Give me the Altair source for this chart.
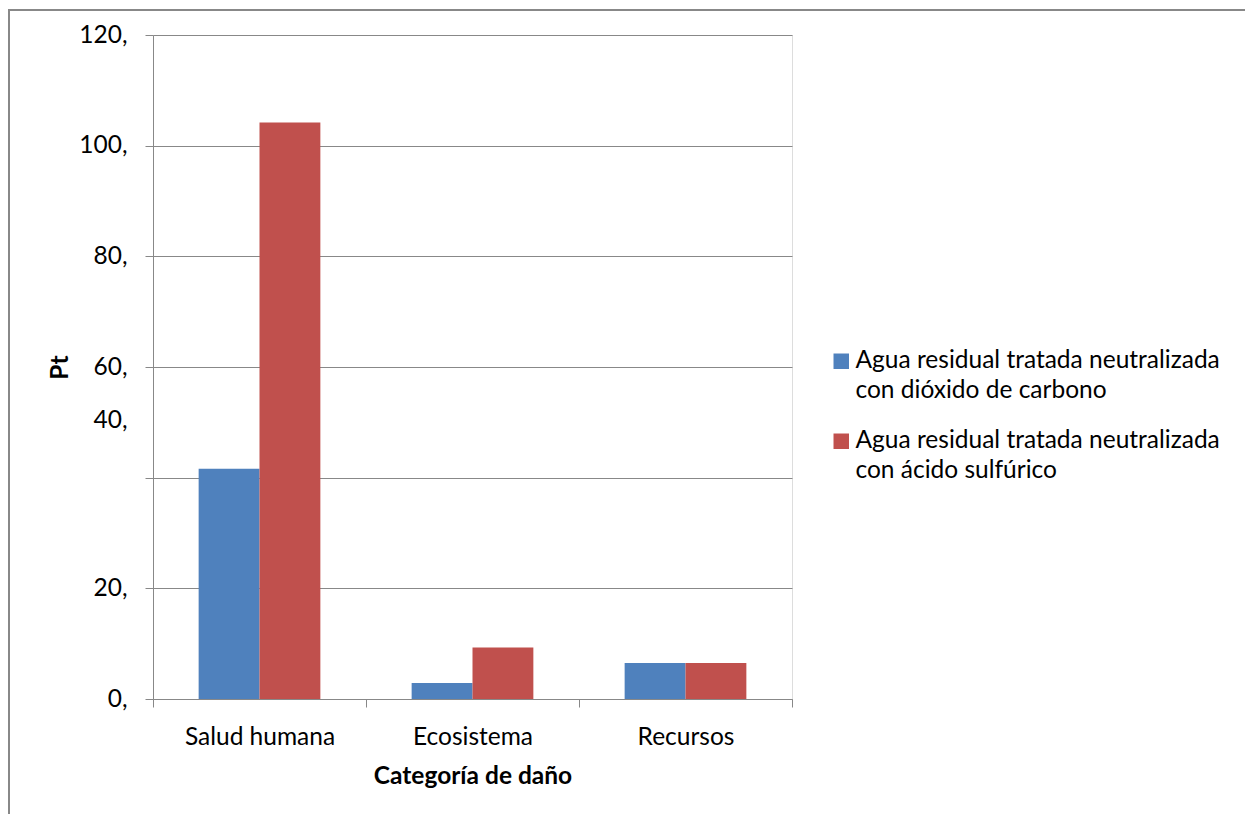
import altair as alt
import pandas as pd

categories = ["Salud humana", "Ecosistema", "Recursos"]
series = [
    "Agua residual tratada neutralizada con dióxido de carbono",
    "Agua residual tratada neutralizada con ácido sulfúrico",
]
values_co2 = [41.6, 2.9, 6.5]
values_h2so4 = [104.2, 9.3, 6.5]
y_ticks = [0, 20, 40, 60, 80, 100, 120]

rows = []
for c, v in zip(categories, values_co2):
    rows.append({"cat": c, "serie": series[0], "val": v})
for c, v in zip(categories, values_h2so4):
    rows.append({"cat": c, "serie": series[1], "val": v})
df = pd.DataFrame(rows)

FONT = "Lato"
FS = 24.5
GRAY = "#888888"
W, H = 639, 664
PAD_R, PAD_B = 453, 115

bars = alt.Chart(df).mark_bar().encode(
    x=alt.X(
        "cat:N",
        sort=categories,
        scale=alt.Scale(paddingInner=0, paddingOuter=0),
        axis=alt.Axis(
            title="Categoría de daño",
            labelAngle=0,
            tickBand="extent",
            tickSize=8,
            tickColor=GRAY,
            domainColor=GRAY,
            labelPadding=18,
            labelFont=FONT,
            labelFontSize=FS,
            labelColor="#000000",
            titleFont=FONT,
            titleFontSize=FS,
            titleFontWeight="bold",
            titleColor="#000000",
            titleBaseline="alphabetic",
            titleY=84,
        ),
    ),
    xOffset=alt.XOffset("serie:N", sort=series, scale=alt.Scale(paddingOuter=0.75, paddingInner=0)),
    y=alt.Y(
        "val:Q",
        scale=alt.Scale(domain=[0, 120], nice=False),
        axis=alt.Axis(
            title="Pt",
            values=y_ticks,
            labelExpr="datum.value + ','",
            labelOffset=alt.expr("datum.value == 40 ? -57 : 0"),
            grid=True,
            gridColor=GRAY,
            tickSize=8,
            tickColor=GRAY,
            domainColor=GRAY,
            labelPadding=18,
            labelFont=FONT,
            labelFontSize=FS,
            labelColor="#000000",
            titleFont=FONT,
            titleFontSize=FS,
            titleFontWeight="bold",
            titleColor="#000000",
            titleAngle=-90,
            titleBaseline="alphabetic",
            titleX=-86,
            titleY=H / 2,
        ),
    ),
    color=alt.Color(
        "serie:N",
        sort=series,
        scale=alt.Scale(domain=series, range=["#4F81BD", "#C0504D"]),
        legend=alt.Legend(
            title=None,
            orient="none",
            legendX=676,
            legendY=314,
            symbolType="square",
            symbolSize=240,
            symbolStrokeWidth=0,
            labelFont=FONT,
            labelFontSize=FS,
            labelColor="#000000",
            labelLimit=600,
            labelBaseline="middle",
            labelExpr="[slice(datum.label, 0, 34), slice(datum.label, 35)]",
            rowPadding=25,
            labelOffset=2,
            padding=0,
        ),
    ),
)

frame = alt.Chart(pd.DataFrame({"a": [0]})).mark_rect(
    fill="transparent", stroke=GRAY, strokeWidth=2
).encode(
    x=alt.value(-144),
    x2=alt.value(W + PAD_R + 2),
    y=alt.value(-25),
    y2=alt.value(H + PAD_B + 2),
)

chart = alt.layer(frame, bars).properties(
    width=W,
    height=H,
    autosize=alt.AutoSizeParams(type="none"),
    padding={"left": 145, "top": 27, "right": PAD_R, "bottom": PAD_B},
).configure_view(stroke=None).configure(
    background="white",
    style={"guide-label": {"lineHeight": 30}},
)

chart.save("out.html", embed_options={"renderer": "svg", "actions": False})
